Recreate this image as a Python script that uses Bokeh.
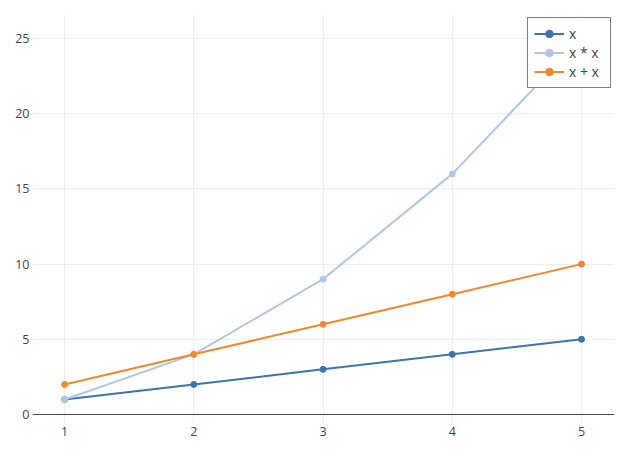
from bokeh.plotting import figure
from bokeh.models import Span, Range1d, Legend, FixedTicker
from bokeh.embed import file_html
from bokeh.resources import INLINE

xs = [1, 2, 3, 4, 5]
y_x = [1, 2, 3, 4, 5]
y_xx = [1, 4, 9, 16, 25]
y_x2 = [2, 4, 6, 8, 10]
names = ["x", "x * x", "x + x"]
colors = ["#3a75b0", "#aec7e8", "#f0882d"]
x_ticks = [1, 2, 3, 4, 5]
y_ticks = [0, 5, 10, 15, 20, 25]

FONT = "Open Sans"

p = figure(width=626, height=450, output_backend="svg", toolbar_location=None,
           x_range=Range1d(0.752, 5.255), y_range=Range1d(-0.6, 26.6),
           min_border_left=32, min_border_right=12, min_border_top=14, min_border_bottom=27)
p.outline_line_color = None
p.background_fill_color = "white"

for ax in (p.xaxis[0], p.yaxis[0]):
    ax.axis_line_color = None
    ax.major_tick_line_color = None
    ax.minor_tick_line_color = None
    ax.major_tick_out = 0
    ax.major_tick_in = 0
    ax.minor_tick_out = 0
    ax.minor_tick_in = 0
    ax.major_label_text_font = FONT
    ax.major_label_text_font_size = "12.5px"
    ax.major_label_text_color = "#444444"
p.xaxis.ticker = FixedTicker(ticks=x_ticks)
p.yaxis.ticker = FixedTicker(ticks=y_ticks)
p.xaxis.major_label_standoff = 3
p.yaxis.major_label_standoff = 3
p.xgrid.ticker = FixedTicker(ticks=x_ticks)
p.ygrid.ticker = FixedTicker(ticks=y_ticks)
p.grid.grid_line_color = "#eeeeee"
p.grid.grid_line_width = 1

p.add_layout(Span(location=0, dimension="width", line_color="#444444", line_width=1))

items = []
for ys, name, c in zip([y_x, y_xx, y_x2], names, colors):
    l = p.line(xs, ys, line_color=c, line_width=2)
    s = p.scatter(xs, ys, size=6, fill_color=c, line_color=c)
    items.append((name, [l, s]))

legend = Legend(items=items, location="top_right", margin=3, padding=6, spacing=0,
                label_height=19, glyph_height=19, glyph_width=30, label_standoff=5,
                label_width=35,
                label_text_font=FONT, label_text_font_size="14px", label_text_color="#444444",
                border_line_color="black", border_line_width=1, background_fill_alpha=1)
p.add_layout(legend)

open("out.html", "w").write(file_html(p, INLINE))
